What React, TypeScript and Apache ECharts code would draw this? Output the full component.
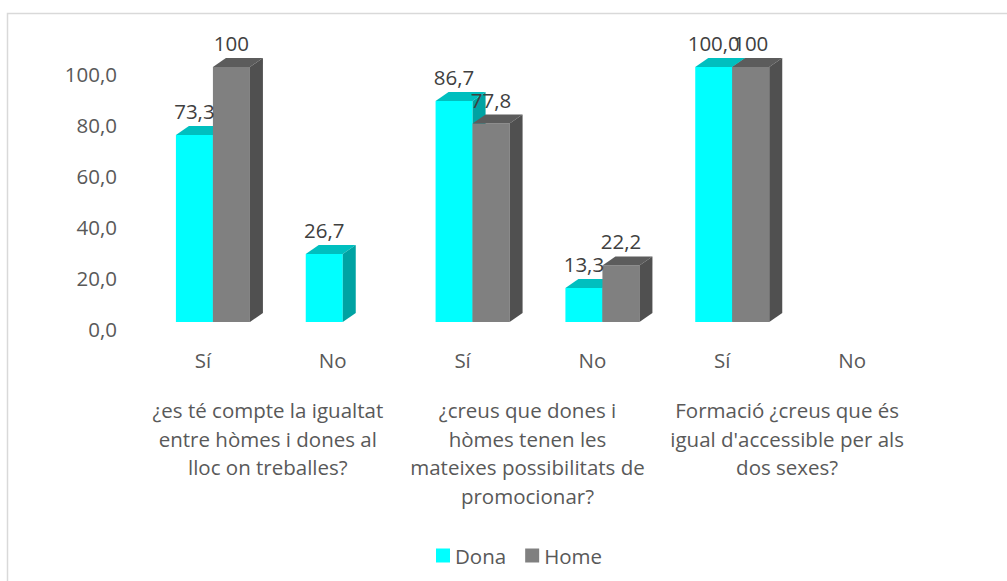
import React, { useEffect, useRef } from "react";
import * as echarts from "echarts";

const categories = ["Sí", "No", "Sí", "No", "Sí", "No"];
const groupLabels = [
  "¿es té compte la igualtat\nentre hòmes i dones al\nlloc on treballes?",
  "¿creus que dones i\nhòmes tenen les\nmateixes possibilitats de\npromocionar?",
  "Formació ¿creus que és\nigual d'accessible per als\ndos sexes?",
];
const seriesNames = ["Dona", "Home"];
const donaValues: (number | null)[] = [73.3, 26.7, 86.7, 13.3, 100, null];
const homeValues: (number | null)[] = [100, null, 77.8, 22.2, 100, null];
const yTicks = { min: 0, max: 100, interval: 20 };

const FONT = "'Open Sans', sans-serif";
const FS = 20.5;

const palettes = [
  { front: "#00FFFF", top: "#00BFBF", side: "#00A3A3" },
  { front: "#808080", top: "#5C5C5C", side: "#505050" },
];

const fmtDona = (v: number) => v.toFixed(1).replace(".", ",");
const fmtHome = (v: number) => String(v).replace(".", ",");

function makeSeries(idx: number, values: (number | null)[], fmt: (v: number) => string) {
  const pal = palettes[idx];
  return {
    type: "custom",
    name: seriesNames[idx],
    xAxisIndex: 0,
    yAxisIndex: 0,
    encode: { x: 0, y: 1 },
    itemStyle: { color: pal.front },
    data: values.map((v, i) => [i, v]),
    renderItem: (params: any, api: any) => {
      const cat = api.value(0);
      const v = api.value(1);
      if (v === null || v === undefined || isNaN(v)) return null;
      const topPt = api.coord([cat, v]);
      const botPt = api.coord([cat, 0]);
      const bw = api.size([1, 0])[0];
      const barW = bw * 0.285;
      const l = topPt[0] - barW + idx * barW;
      const r = l + barW;
      const y = topPt[1];
      const b = botPt[1];
      const dx = 13;
      const dy = 9;
      return {
        type: "group",
        children: [
          {
            type: "rect",
            shape: { x: l, y: y, width: barW, height: b - y },
            style: { fill: pal.front },
          },
          {
            type: "polygon",
            shape: { points: [[l, y], [l + dx, y - dy], [r + dx, y - dy], [r, y]] },
            style: { fill: pal.top },
          },
          {
            type: "polygon",
            shape: { points: [[r, y], [r + dx, y - dy], [r + dx, b - dy], [r, b]] },
            style: { fill: pal.side },
          },
          {
            type: "text",
            x: (l + r) / 2,
            y: y - 24,
            style: {
              text: fmt(v),
              fill: "#404040",
              font: `${FS}px ${FONT}`,
              align: "center",
              verticalAlign: "middle",
            },
            z2: 10,
          },
        ],
      };
    },
  };
}

export default function App() {
  const ref = useRef<HTMLDivElement>(null);
  useEffect(() => {
    if (!ref.current) return;
    const chart = echarts.init(ref.current, null, { renderer: "svg" });
    chart.setOption({
      animation: false,
      backgroundColor: "#ffffff",
      color: [palettes[0].front, palettes[1].front],
      textStyle: { fontFamily: FONT },
      grid: { left: 148, top: 67, width: 779, height: 255, containLabel: false },
      xAxis: [
        {
          type: "category",
          data: categories,
          gridIndex: 0,
          position: "bottom",
          axisLine: { show: false },
          axisTick: { show: false },
          splitLine: { show: false },
          axisLabel: {
            color: "#595959",
            fontSize: FS,
            fontFamily: FONT,
            margin: 27,
            padding: [0, 20, 0, 0],
          },
        },
        {
          type: "category",
          data: groupLabels,
          gridIndex: 0,
          position: "bottom",
          axisLine: { show: false },
          axisTick: { show: false },
          splitLine: { show: false },
          axisLabel: {
            color: "#595959",
            fontSize: FS,
            fontFamily: FONT,
            lineHeight: 28.5,
            margin: 74,
            interval: 0,
            padding: [0, 20, 0, 0],
          },
        },
      ],
      yAxis: {
        type: "value",
        min: yTicks.min,
        max: yTicks.max,
        interval: yTicks.interval,
        axisLine: { show: false },
        axisTick: { show: false },
        splitLine: { show: false },
        axisLabel: {
          color: "#595959",
          fontSize: FS,
          fontFamily: FONT,
          margin: 31,
          verticalAlign: "top",
          lineHeight: 14,
          formatter: (v: number) => v.toFixed(1).replace(".", ","),
        },
      },
      legend: {
        data: seriesNames,
        left: 431,
        top: 540,
        icon: "rect",
        itemWidth: 14,
        itemHeight: 14,
        itemGap: 19,
        textStyle: { color: "#595959", fontSize: FS, fontFamily: FONT },
      },
      graphic: [
        {
          type: "rect",
          shape: { x: 7.5, y: 13.5, width: 1200, height: 800 },
          style: { fill: "none", stroke: "#d9d9d9", lineWidth: 1.5 },
          silent: true,
        },
      ],
      series: [makeSeries(0, donaValues, fmtDona), makeSeries(1, homeValues, fmtHome)],
    });
    return () => chart.dispose();
  }, []);
  return (
    <div
      ref={ref}
      style={{ position: "fixed", left: 0, top: 0, width: 1007, height: 581 }}
    />
  );
}
